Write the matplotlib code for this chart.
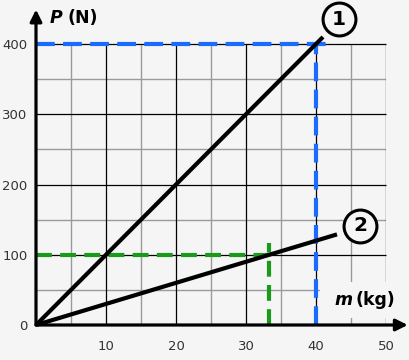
"""Weight P against mass m for two bodies, with read-off guide lines."""

import matplotlib

matplotlib.use("Agg")
import matplotlib.pyplot as plt
from matplotlib.patches import Rectangle

BG = "#f5f5f5"
BLUE = "#1a6cff"
GREEN = "#1a9a1a"

# axis ticks
X_MAJOR = [10, 20, 30, 40, 50]
X_MINOR = [5, 15, 25, 35, 45]
Y_MAJOR = [100, 200, 300, 400]
Y_MINOR = [50, 150, 250, 350]
X_LABELS = ["10", "20", "30", "40", "50"]
Y_LABELS = ["0", "100", "200", "300", "400"]

# the two straight lines (mass in kg, weight in N)
LINE1_M = [0, 41]
LINE1_P = [0, 410]
LINE2_M = [0, 43]
LINE2_P = [0, 129]

# read-off points
BLUE_M, BLUE_P = 40, 400
GREEN_M, GREEN_P = 33.3, 100


def main() -> int:
    fig = plt.figure(figsize=(4.1, 3.6), dpi=100, facecolor=BG)
    ax = fig.add_axes([36 / 410, 35 / 360, 350 / 410, 281 / 360])
    ax.set_facecolor(BG)
    ax.set_xlim(0, 50)
    ax.set_ylim(0, 400)

    # grid
    ax.vlines(X_MINOR, 0, 400, color="#9a9a9a", lw=1, zorder=1)
    ax.hlines(Y_MINOR, 0, 50, color="#9a9a9a", lw=1, zorder=1)
    ax.vlines(X_MAJOR, 0, 400, color="black", lw=0.9, zorder=1.5)
    ax.hlines(Y_MAJOR, 0, 50, color="black", lw=0.9, zorder=1.5, clip_on=False)

    for side in ("top", "right", "left", "bottom"):
        ax.spines[side].set_visible(False)
    ax.set_xticks(X_MAJOR)
    ax.set_xticklabels(X_LABELS)
    ax.set_yticks([0] + Y_MAJOR)
    ax.set_yticklabels(Y_LABELS)
    ax.tick_params(axis="x", length=0, pad=11, labelsize=9.5, labelcolor="#333333")
    ax.tick_params(axis="y", length=0, pad=6, labelsize=9.5, labelcolor="#333333")

    # guide lines
    dash_b = dict(color=BLUE, lw=3, dashes=(4.5, 2.0), zorder=3, clip_on=False)
    dash_g = dict(color=GREEN, lw=3, dashes=(3.8, 2.0), zorder=3, clip_on=False)
    ax.plot([0, 42.2], [BLUE_P, BLUE_P], **dash_b)
    ax.plot([BLUE_M, BLUE_M], [0, BLUE_P], **dash_b)
    ax.plot([0, 34.4], [GREEN_P, GREEN_P], **dash_g)
    ax.plot([GREEN_M, GREEN_M], [0, 117], **dash_g)

    # data lines
    ax.plot(LINE1_M, LINE1_P, color="black", lw=3, solid_capstyle="butt", zorder=4, clip_on=False)
    ax.plot(LINE2_M, LINE2_P, color="black", lw=3, solid_capstyle="butt", zorder=4, clip_on=False)

    # blank box behind the x label
    ax.add_patch(Rectangle((40.6, 10), 13, 51, facecolor=BG, edgecolor="none",
                           zorder=2.5, clip_on=False))

    # axes with arrows
    ax.annotate("", xy=(0, 449), xytext=(0, 0), annotation_clip=False,
                arrowprops=dict(arrowstyle="-|>,head_length=0.7,head_width=0.35",
                                color="black", lw=2.3, shrinkA=0, shrinkB=0), zorder=5)
    ax.annotate("", xy=(53.1, 0), xytext=(0, 0), annotation_clip=False,
                arrowprops=dict(arrowstyle="-|>,head_length=0.7,head_width=0.35",
                                color="black", lw=2.3, shrinkA=0, shrinkB=0), zorder=5)

    # axis names
    ax.text(2.0, 437, "P", fontsize=12.5, fontweight="bold", style="italic",
            va="center", ha="left", clip_on=False)
    ax.text(4.5, 437, "(N)", fontsize=12.5, fontweight="bold",
            va="center", ha="left", clip_on=False)
    ax.text(42.6, 36, "m", fontsize=12.5, fontweight="bold", style="italic",
            va="center", ha="left", zorder=6, clip_on=False)
    ax.text(45.6, 36, "(kg)", fontsize=12.5, fontweight="bold",
            va="center", ha="left", zorder=6, clip_on=False)

    # numbered circles
    for m, p, label in [(43.3, 435, "1"), (46.3, 141, "2")]:
        ax.scatter([m], [p], s=560, facecolor=BG, edgecolor="black", linewidth=2.2,
                   zorder=6, clip_on=False)
        ax.text(m, p, label, fontsize=14.5, fontweight="bold", ha="center",
                va="center", zorder=7, clip_on=False)

    fig.savefig("out.png", dpi=100, facecolor=BG)
    plt.close(fig)
    return 0


if __name__ == "__main__":
    raise SystemExit(main())
